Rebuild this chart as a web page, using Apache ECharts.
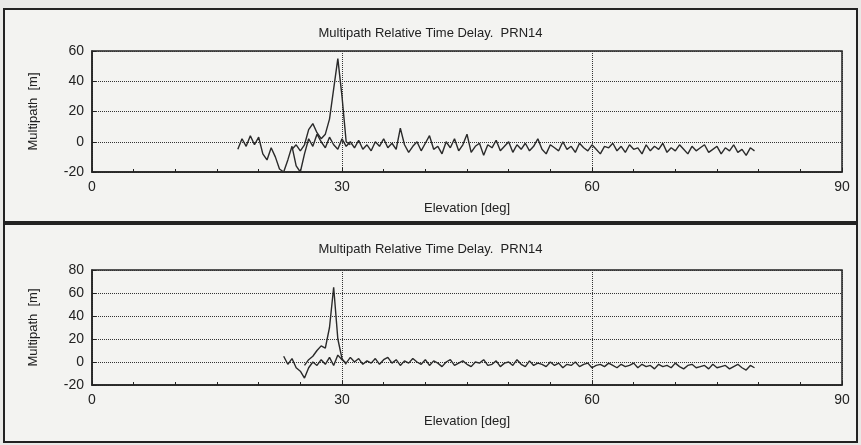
<!DOCTYPE html>
<html><head><meta charset="utf-8">
<script src="https://cdn.jsdelivr.net/npm/echarts@6/dist/echarts.min.js"></script>
<style>
html,body{margin:0;padding:0;background:#e9e9e7;}
#c{width:861px;height:445px;}
.p{position:absolute;left:3px;width:855px;border:2px solid #222;background:#f3f3f1;box-sizing:border-box;}
</style></head><body>
<div class="p" style="top:8px;height:215px;"></div>
<div class="p" style="top:223px;height:220px;"></div>
<div id="c" style="position:absolute;left:0;top:0;"></div>
<script>
const title = 'Multipath Relative Time Delay.  PRN14';
const xName = 'Elevation [deg]';
const yName = 'Multipath  [m]';
const step = 0.5;
// Top panel
const topStart = 17.5;
const topMain = [-5,2,-3,4,-2,3,-8,-12,-4,-10,-18,-20,-12,-3,-16,-20,-8,2,-3,5,0,-4,3,-2,-5,2,-3,0,-4,1,-5,-2,-6,0,-3,2,-4,-1,-5,9,-2,-7,-3,0,-6,-1,4,-5,-3,-8,0,-4,2,-6,-2,5,-7,-3,-1,-9,-2,-4,1,-6,-3,0,-7,-2,-5,-1,-6,-3,2,-5,-8,-2,-4,-6,0,-5,-3,-7,-1,-4,-6,-2,-5,-8,-3,-4,-1,-6,-3,-7,-2,-5,-4,-8,-2,-6,-3,-5,-1,-7,-4,-6,-2,-5,-8,-3,-6,-4,-2,-7,-5,-3,-8,-4,-6,-2,-7,-5,-9,-4,-6];
const topPeakStart = 24;
const topPeak = [-5,-2,-6,-2,8,12,6,2,5,15,35,55,30,0,-2];
// Bottom panel
const botStart = 23;
const botMain = [5,-2,3,-5,-8,-14,-5,0,-3,2,-2,4,-3,6,2,-1,4,0,3,-2,1,-1,3,-2,2,4,-1,2,-3,1,-1,3,0,-2,2,-3,1,-1,-4,0,2,-3,-1,1,-2,-4,0,-1,2,-3,-2,1,-4,-1,0,-3,2,-2,-4,1,-3,-1,-2,-4,0,-3,-1,-5,-2,-3,0,-4,-2,-1,-5,-3,-2,-4,-1,-3,-5,-2,-4,-3,-1,-5,-2,-4,-3,-6,-2,-4,-3,-5,-1,-4,-6,-3,-2,-5,-4,-3,-6,-2,-5,-4,-3,-6,-4,-2,-5,-7,-3,-5];
const botPeakStart = 25.5;
const botPeak = [-3,2,5,10,14,12,30,65,20,3,-2];

function pts(start, ys){ return ys.map((y,i)=>[start+i*step,y]); }

const ff = 'Liberation Sans Narrow, Arial Narrow, Liberation Sans, sans-serif';
function xAxis(gi){ return {gridIndex:gi,type:'value',min:0,max:90,interval:30,name:xName,nameLocation:'middle',nameGap:30,
  nameTextStyle:{fontFamily:ff,fontSize:13,color:'#222'},
  axisLine:{onZero:false,lineStyle:{color:'#222',width:1.5}},axisTick:{inside:true,length:4,lineStyle:{color:'#222'}},
  minorTick:{show:true,splitNumber:6,length:3,lineStyle:{color:'#222'}},
  axisLabel:{fontFamily:ff,fontSize:14,color:'#222',margin:8},
  splitLine:{show:true,lineStyle:{type:'dotted',color:'#333',width:1}}}; }
function yAxis(gi,max){ return {gridIndex:gi,type:'value',min:-20,max:max,interval:20,name:yName,nameLocation:'middle',nameGap:52,
  nameTextStyle:{fontFamily:ff,fontSize:13,color:'#222'},
  axisLine:{onZero:false,lineStyle:{color:'#222',width:1.5}},axisTick:{inside:true,length:4,lineStyle:{color:'#222'}},
  axisLabel:{fontFamily:ff,fontSize:14,color:'#222'},
  splitLine:{show:true,lineStyle:{type:'dotted',color:'#333',width:1}}}; }
function line(gi,d){ return {type:'line',xAxisIndex:gi,yAxisIndex:gi,data:d,showSymbol:false,lineStyle:{color:'#2a2a2a',width:1.4},animation:false}; }

const chart = echarts.init(document.getElementById('c'));
chart.setOption({
  animation:false,
  title:[{text:title,left:'center',top:22,textStyle:{fontFamily:ff,fontSize:13,fontWeight:'normal',color:'#222'}},
         {text:title,left:'center',top:238,textStyle:{fontFamily:ff,fontSize:13,fontWeight:'normal',color:'#222'}}],
  grid:[{left:92,right:19,top:51,height:121,show:true,borderColor:'#222',borderWidth:1.5},
        {left:92,right:19,top:270,height:115,show:true,borderColor:'#222',borderWidth:1.5}],
  xAxis:[xAxis(0),xAxis(1)],
  yAxis:[yAxis(0,60),yAxis(1,80)],
  series:[line(0,pts(topStart,topMain)),line(0,pts(topPeakStart,topPeak)),
          line(1,pts(botStart,botMain)),line(1,pts(botPeakStart,botPeak))]
});
</script></body></html>
